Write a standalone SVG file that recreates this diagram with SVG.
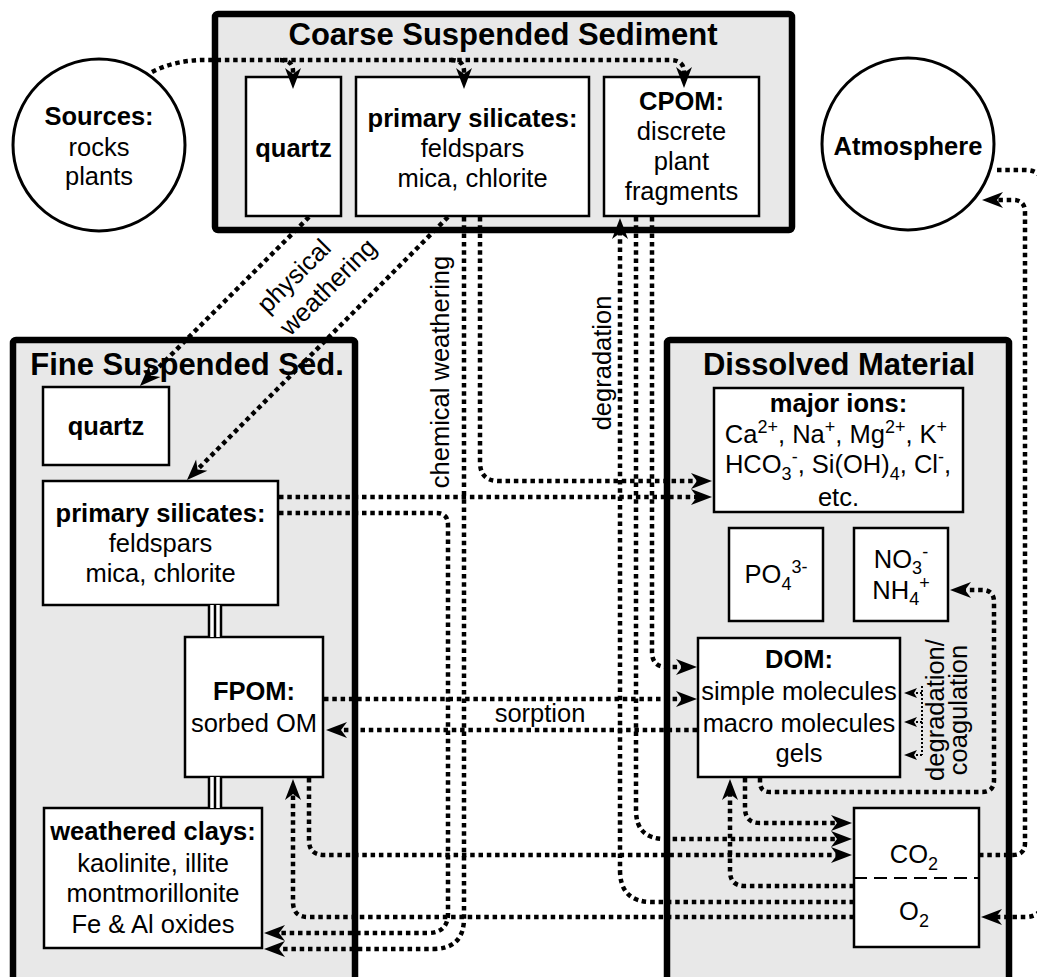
<svg xmlns="http://www.w3.org/2000/svg" width="1037" height="977" viewBox="0 0 1037 977">
<style>
text{font-family:"Liberation Sans",Arial,sans-serif;font-size:25.5px;fill:#000;text-anchor:middle}
.b{font-weight:bold}
.t{font-size:31px;font-weight:bold}
.s{font-size:18px}
.grp{fill:#e8e8e8;stroke:#000;stroke-width:6.5}
.box{fill:#fff;stroke:#000;stroke-width:2.5}
.circ{fill:#fff;stroke:#000;stroke-width:3}
.dot{fill:none;stroke:#000;stroke-width:4.5;stroke-dasharray:4.5 3.8}
.thin{fill:none;stroke:#000;stroke-width:2;stroke-dasharray:2 2}
.dash{fill:none;stroke:#000;stroke-width:2;stroke-dasharray:13 7}
.lk{stroke:#000;stroke-width:2.5}
</style>
<defs>
<marker id="ah" viewBox="-12 -9 24 18" refX="0" refY="0" markerWidth="24" markerHeight="18" markerUnits="userSpaceOnUse" orient="auto">
<path d="M10,0 L-11,-8 L-5,0 L-11,8 Z" fill="#000"/>
</marker>
<marker id="ahs" viewBox="-8 -6 16 12" refX="0" refY="0" markerWidth="16" markerHeight="12" markerUnits="userSpaceOnUse" orient="auto">
<path d="M7,0 L-6,-5 L-3,0 L-6,5 Z" fill="#000"/>
</marker>
</defs>

<!-- container groups -->
<g id="coarse">
<rect class="grp" x="215" y="14" width="577" height="216" rx="3"/>
<text class="t" x="503" y="45">Coarse Suspended Sediment</text>
</g>
<g id="fine">
<rect class="grp" x="13" y="340" width="342" height="700" rx="3"/>
<text class="t" x="187" y="375">Fine Suspended Sed.</text>
</g>
<g id="dissolved">
<rect class="grp" x="667" y="340" width="342" height="700" rx="3"/>
<text class="t" x="839" y="375">Dissolved Material</text>
</g>

<!-- nodes -->
<g id="sources">
<circle class="circ" cx="99" cy="145" r="86"/>
<text class="b" x="99" y="125">Sources:</text>
<text x="99" y="156">rocks</text>
<text x="99" y="185">plants</text>
</g>
<g id="atmosphere">
<circle class="circ" cx="908" cy="144" r="86"/>
<text class="b" x="908" y="155">Atmosphere</text>
</g>
<g id="coarse-quartz">
<rect class="box" x="246" y="77" width="95" height="139"/>
<text class="b" x="293.5" y="157">quartz</text>
</g>
<g id="coarse-silicates">
<rect class="box" x="356" y="77" width="233" height="139"/>
<text class="b" x="472.5" y="127">primary silicates:</text>
<text x="472.5" y="157">feldspars</text>
<text x="472.5" y="187">mica, chlorite</text>
</g>
<g id="cpom">
<rect class="box" x="604" y="77" width="155" height="139"/>
<text class="b" x="681.5" y="110">CPOM:</text>
<text x="681.5" y="140">discrete</text>
<text x="681.5" y="170">plant</text>
<text x="681.5" y="200">fragments</text>
</g>
<g id="fine-quartz">
<rect class="box" x="43" y="387" width="126" height="78"/>
<text class="b" x="106" y="435">quartz</text>
</g>
<g id="fine-silicates">
<rect class="box" x="43" y="481" width="235" height="124"/>
<text class="b" x="160.5" y="522">primary silicates:</text>
<text x="160.5" y="552">feldspars</text>
<text x="160.5" y="582">mica, chlorite</text>
</g>
<g id="fpom">
<rect class="box" x="185" y="637" width="138" height="140"/>
<text class="b" x="254" y="700">FPOM:</text>
<text x="254" y="732">sorbed OM</text>
</g>
<g id="clays">
<rect class="box" x="44" y="808" width="218" height="140"/>
<text class="b" x="153" y="840">weathered clays:</text>
<text x="153" y="872">kaolinite, illite</text>
<text x="153" y="902">montmorillonite</text>
<text x="153" y="933">Fe &amp; Al oxides</text>
</g>
<g id="major-ions">
<rect class="box" x="714" y="388" width="249" height="124"/>
<text class="b" x="838.5" y="412">major ions:</text>
<text x="836" y="443">Ca<tspan class="s" dy="-10">2+</tspan><tspan dy="10">, Na</tspan><tspan class="s" dy="-10">+</tspan><tspan dy="10">, Mg</tspan><tspan class="s" dy="-10">2+</tspan><tspan dy="10">, K</tspan><tspan class="s" dy="-10">+</tspan></text>
<text x="838" y="473">HCO<tspan class="s" dy="7">3</tspan><tspan class="s" dy="-17">-</tspan><tspan dy="10">, Si(OH)</tspan><tspan class="s" dy="7">4</tspan><tspan dy="-7">, Cl</tspan><tspan class="s" dy="-10">-</tspan><tspan dy="10">,</tspan></text>
<text x="838.5" y="506">etc.</text>
</g>
<g id="po4">
<rect class="box" x="729" y="528" width="94" height="93"/>
<text x="776" y="583">PO<tspan class="s" dy="7">4</tspan><tspan class="s" dy="-17">3-</tspan></text>
</g>
<g id="nitrogen">
<rect class="box" x="854" y="528" width="94" height="93"/>
<text x="901" y="568">NO<tspan class="s" dy="6">3</tspan><tspan class="s" dy="-16">-</tspan></text>
<text x="901" y="599">NH<tspan class="s" dy="6">4</tspan><tspan class="s" dy="-16">+</tspan></text>
</g>
<g id="dom">
<rect class="box" x="698" y="638" width="202" height="139"/>
<text class="b" x="799" y="668">DOM:</text>
<text x="799" y="700">simple molecules</text>
<text x="799" y="732">macro molecules</text>
<text x="799" y="762">gels</text>
</g>
<g id="gases">
<rect class="box" x="854" y="808" width="125" height="139"/>
<line class="dash" x1="854" y1="878" x2="979" y2="878"/>
<text x="914" y="863">CO<tspan class="s" dy="7">2</tspan></text>
<text x="914" y="920">O<tspan class="s" dy="7">2</tspan></text>
</g>

<!-- structural links (triple lines) -->
<g id="links">
<rect x="208" y="605" width="14" height="32" fill="#fff"/>
<line class="lk" x1="209" y1="605" x2="209" y2="637"/>
<line class="lk" x1="215" y1="605" x2="215" y2="637"/>
<line class="lk" x1="221" y1="605" x2="221" y2="637"/>
<rect x="208" y="777" width="14" height="31" fill="#fff"/>
<line class="lk" x1="209" y1="777" x2="209" y2="808"/>
<line class="lk" x1="215" y1="777" x2="215" y2="808"/>
<line class="lk" x1="221" y1="777" x2="221" y2="808"/>
</g>

<!-- connectors -->
<g id="connectors">
<path class="dot" d="M152,72 Q175,60 205,60 L670,60 Q684,60 684,72 L684,78" marker-end="url(#ah)"/>
<path class="dot" d="M280,60 Q293,60 293,71 L293,79" marker-end="url(#ah)"/>
<path class="dot" d="M451,60 Q464,60 464,71 L464,79" marker-end="url(#ah)"/>
<path class="dot" d="M309,217 L147,379" marker-end="url(#ah)"/>
<path class="dot" d="M448,217 L194,473" marker-end="url(#ah)"/>
<path class="dot" d="M464,217 L464,918 Q464,949 433,949 L274,949" marker-end="url(#ah)"/>
<path class="dot" d="M480,217 L480,462 Q480,481 499,481 L702,481" marker-end="url(#ah)"/>
<path class="dot" d="M279,497 L702,497" marker-end="url(#ah)"/>
<path class="dot" d="M279,513 L436,513 Q448,513 448,525 L448,913 Q448,933 428,933 L274,933" marker-end="url(#ah)"/>
<path class="dot" d="M854,902 L652,902 Q620,902 620,870 L620,228" marker-end="url(#ah)"/>
<path class="dot" d="M636,217 L636,810 Q636,839 665,839 L842,839" marker-end="url(#ah)"/>
<path class="dot" d="M652,217 L652,652 Q652,667 667,667 L687,667" marker-end="url(#ah)"/>
<path class="dot" d="M324,699 L687,699" marker-end="url(#ah)"/>
<path class="dot" d="M697,730 L336,730" marker-end="url(#ah)"/>
<path class="dot" d="M745,778 L745,808 Q745,823 760,823 L842,823" marker-end="url(#ah)"/>
<path class="dot" d="M760,778 L760,782 Q760,792 770,792 L982,792 Q994,792 994,780 L994,602 Q994,590 982,590 L960,590" marker-end="url(#ah)"/>
<path class="thin" d="M922,686 L922,755"/>
<path class="thin" d="M922,693 L911,693" marker-end="url(#ahs)"/>
<path class="thin" d="M922,722 L911,722" marker-end="url(#ahs)"/>
<path class="thin" d="M922,755 L911,755" marker-end="url(#ahs)"/>
<path class="dot" d="M309,778 L309,840 Q309,855 324,855 L842,855" marker-end="url(#ah)"/>
<path class="dot" d="M854,917 L308,917 Q293,917 293,902 L293,789" marker-end="url(#ah)"/>
<path class="dot" d="M854,886 L745,886 Q730,886 730,871 L730,789" marker-end="url(#ah)"/>
<path class="dot" d="M979,855 L1013,855 Q1025,855 1025,843 L1025,212 Q1025,200 1013,200 L992,200" marker-end="url(#ah)"/>
<path class="dot" d="M997,170 L1025,170 Q1043,170 1043,188 L1043,899 Q1043,917 1025,917 L991,917" marker-end="url(#ah)"/>
</g>

<!-- connector labels -->
<g id="labels">
<text transform="translate(300,282) rotate(-45)">physical</text>
<text transform="translate(334,293) rotate(-45)">weathering</text>
<text transform="translate(449,372) rotate(-90)">chemical weathering</text>
<text transform="translate(611,363) rotate(-90)">degradation</text>
<text x="540" y="722">sorption</text>
<text transform="translate(944,710) rotate(-90)">degradation/</text>
<text transform="translate(967,710) rotate(-90)">coagulation</text>
</g>
</svg>
